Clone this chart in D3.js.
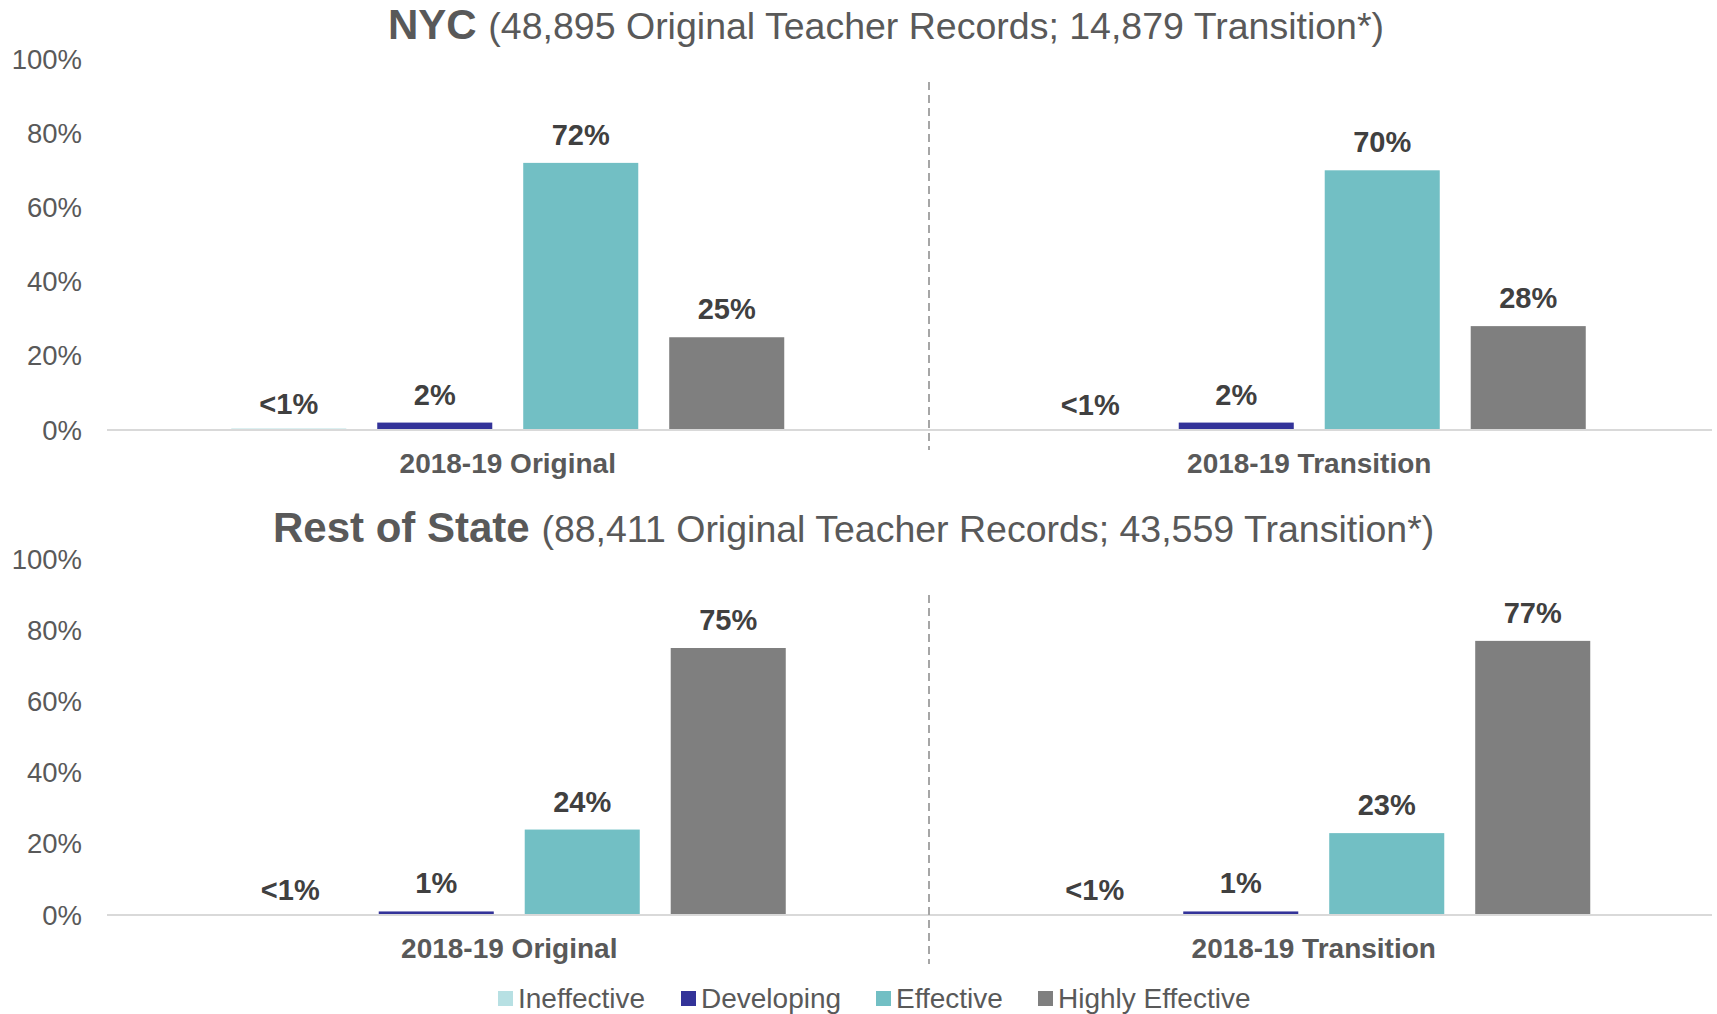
<!DOCTYPE html>
<html>
<head>
<meta charset="utf-8">
<script src="https://cdn.jsdelivr.net/npm/d3@7"></script>
<style>
  body { margin: 0; background: #fff; }
  svg { display: block; font-family: "Liberation Sans", Arial, sans-serif; }
</style>
</head>
<body>
<div id="chart"></div>
<script>
// data
var levels = ["Ineffective", "Developing", "Effective", "Highly Effective"];
var periods = ["2018-19 Original", "2018-19 Transition"];
var nycOriginal = [0.4, 2, 72, 25];
var nycTransition = [0.1, 2, 70, 28];
var rosOriginal = [0.1, 1, 24, 75];
var rosTransition = [0.1, 1, 23, 77];
var yTicks = [0, 20, 40, 60, 80, 100];
var colors = ["#b7e0e3", "#333399", "#72bfc4", "#7f7f7f"];

var width = 1717, height = 1014;

var svg = d3.select("#chart").append("svg")
    .attr("width", width)
    .attr("height", height);

// one panel = title, y axis, two clusters of bars, dashed divider
function drawPanel(cfg) {
  var g = svg.append("g");

  var y = d3.scaleLinear().domain([0, 100]).range([cfg.bottom, cfg.top]);
  var x0 = d3.scaleBand().domain(periods).range([107, cfg.right]);
  var x1 = d3.scaleBand().domain(levels).range([0, 553]).paddingInner(0.212);
  var offset = (x0.bandwidth() - 553) / 2;

  // title
  var t = g.append("text")
      .attr("x", cfg.titleX)
      .attr("y", cfg.titleY)
      .attr("fill", "#595959");
  t.append("tspan").attr("font-weight", "bold").attr("font-size", "42px").text(cfg.name + " ");
  t.append("tspan").attr("font-size", "37.5px").text(cfg.sub);

  // y axis labels
  g.selectAll(".ytick").data(yTicks).enter().append("text")
      .attr("x", 82)
      .attr("y", function(d) { return y(d); })
      .attr("dy", "0.35em")
      .attr("text-anchor", "end")
      .attr("font-size", "27.5px")
      .attr("fill", "#595959")
      .text(function(d) { return d + "%"; });

  // bars
  var groups = g.selectAll(".grp").data(periods).enter().append("g")
      .attr("transform", function(d) { return "translate(" + (x0(d) + offset) + ",0)"; });

  groups.selectAll("rect").data(function(d, i) { return cfg.values[i]; }).enter().append("rect")
      .attr("x", function(d, i) { return x1(levels[i]); })
      .attr("y", function(d) { return y(d); })
      .attr("width", x1.bandwidth())
      .attr("height", function(d) { return y(0) - y(d); })
      .attr("fill", function(d, i) { return colors[i]; });

  groups.selectAll(".lbl").data(function(d, i) { return cfg.values[i]; }).enter().append("text")
      .attr("x", function(d, i) { return x1(levels[i]) + x1.bandwidth() / 2; })
      .attr("y", function(d) { return y(d) - (d < 1 ? 15 : 18); })
      .attr("text-anchor", "middle")
      .attr("font-size", "29px")
      .attr("font-weight", "bold")
      .attr("fill", "#404040")
      .text(function(d) { return d < 1 ? "<1%" : Math.round(d) + "%"; });

  // baseline
  g.append("line")
      .attr("x1", 107).attr("x2", 1712)
      .attr("y1", y(0)).attr("y2", y(0))
      .attr("stroke", "#d9d9d9")
      .attr("stroke-width", 2);

  // category labels
  g.selectAll(".cat").data(periods).enter().append("text")
      .attr("x", function(d) { return x0(d) + x0.bandwidth() / 2; })
      .attr("y", cfg.bottom + 43)
      .attr("text-anchor", "middle")
      .attr("font-size", "28px")
      .attr("font-weight", "bold")
      .attr("fill", "#595959")
      .text(function(d) { return d; });

  // dashed divider
  g.append("line")
      .attr("x1", 929).attr("x2", 929)
      .attr("y1", cfg.dashTop).attr("y2", cfg.dashBottom)
      .attr("stroke", "#a6a6a6")
      .attr("stroke-width", 2)
      .attr("stroke-dasharray", "8,5");
}

drawPanel({
  name: "NYC",
  sub: "(48,895 Original Teacher Records; 14,879 Transition*)",
  titleX: 388, titleY: 39,
  top: 59, bottom: 430, right: 1710,
  dashTop: 82, dashBottom: 450,
  values: [nycOriginal, nycTransition]
});

drawPanel({
  name: "Rest of State",
  sub: "(88,411 Original Teacher Records; 43,559 Transition*)",
  titleX: 273, titleY: 542,
  top: 559, bottom: 915, right: 1716,
  dashTop: 595, dashBottom: 964,
  values: [rosOriginal, rosTransition]
});

// legend
var legend = svg.append("g");
var legendX = [498, 681, 876, 1038];
var items = legend.selectAll("g").data(levels).enter().append("g")
    .attr("transform", function(d, i) { return "translate(" + legendX[i] + ",991)"; });
items.append("rect")
    .attr("width", 15).attr("height", 15)
    .attr("fill", function(d, i) { return colors[i]; });
items.append("text")
    .attr("x", 20).attr("y", 7.5)
    .attr("dy", "0.35em")
    .attr("font-size", "28px")
    .attr("fill", "#595959")
    .text(function(d) { return d; });
</script>
</body>
</html>
